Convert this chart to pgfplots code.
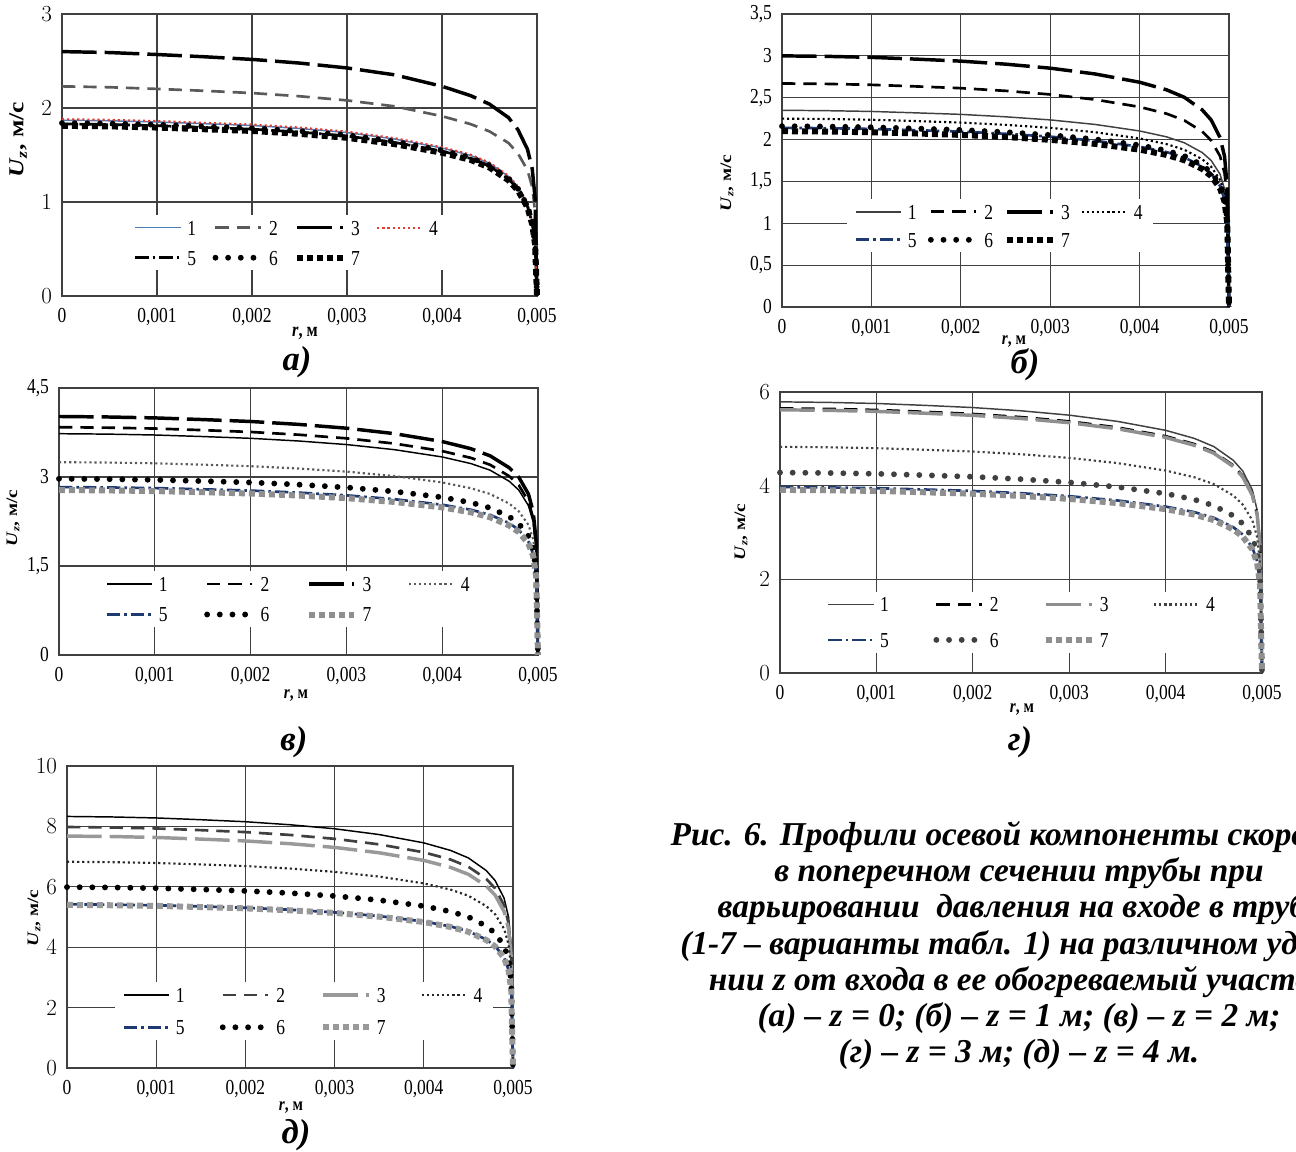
\documentclass[border=0pt]{standalone}
\usepackage{fontspec}
\setmainfont{Liberation Serif}
\newfontfamily\tickfont{Liberation Serif}[FakeStretch=0.82]
\newfontfamily\rotfont{Liberation Serif}[FakeStretch=1.2]
\usepackage{pgfplots}
\usepackage{pgfplotstable}
\pgfplotsset{compat=1.18}

\definecolor{cblue}{HTML}{4A7EBB}
\definecolor{cred}{HTML}{E03C31}
\definecolor{cnavy}{HTML}{1F3A73}
\definecolor{cdgray}{HTML}{404040}
\definecolor{cmgray}{HTML}{5A5A5A}
\definecolor{clgray}{HTML}{8F8F8F}

\pgfplotstableread{
r       c1     c2     c3     c4     c5     c6     c7
0       1.870  2.230  2.600  1.880  1.830  1.840  1.810
0.0005  1.864  2.221  2.590  1.874  1.825  1.834  1.805
0.001   1.851  2.203  2.569  1.861  1.812  1.822  1.792
0.0015  1.833  2.183  2.545  1.842  1.793  1.803  1.774
0.002   1.814  2.159  2.517  1.824  1.775  1.785  1.756
0.0025  1.782  2.125  2.478  1.792  1.744  1.754  1.725
0.003   1.739  2.081  2.426  1.748  1.702  1.711  1.683
0.0035  1.670  2.018  2.353  1.679  1.634  1.643  1.616
0.004   1.575  1.913  2.231  1.583  1.541  1.549  1.524
0.0043  1.496  1.829  2.132  1.504  1.464  1.472  1.448
0.0045  1.412  1.751  2.041  1.419  1.382  1.389  1.367
0.0047  1.272  1.628  1.898  1.278  1.244  1.251  1.231
0.0048  1.159  1.516  1.768  1.166  1.135  1.141  1.122
0.0049  0.972  1.338  1.560  0.978  0.952  0.957  0.941
0.00495 0.785  1.160  1.352  0.790  0.769  0.773  0.760
0.00498 0.561  0.892  1.040  0.564  0.549  0.552  0.543
0.005   0      0      0      0      0      0      0
}\tabA

\pgfplotstableread{
r       c1     c2     c3     c4     c5     c6     c7
0       2.350  2.670  3.000  2.250  2.140  2.160  2.100
0.0005  2.345  2.665  2.994  2.246  2.136  2.156  2.096
0.001   2.336  2.654  2.982  2.237  2.127  2.147  2.087
0.0015  2.319  2.635  2.961  2.221  2.112  2.132  2.073
0.002   2.301  2.614  2.937  2.203  2.095  2.115  2.056
0.0025  2.272  2.582  2.901  2.176  2.069  2.089  2.031
0.003   2.235  2.539  2.853  2.140  2.035  2.054  1.997
0.0035  2.181  2.478  2.784  2.088  1.986  2.004  1.949
0.004   2.103  2.390  2.685  2.014  1.915  1.933  1.880
0.0043  2.033  2.310  2.595  1.946  1.851  1.868  1.817
0.0045  1.962  2.229  2.505  1.879  1.787  1.804  1.754
0.0047  1.845  2.096  2.355  1.766  1.680  1.696  1.649
0.0048  1.751  1.989  2.235  1.676  1.594  1.609  1.565
0.0049  1.586  1.802  2.025  1.519  1.445  1.458  1.418
0.00495 1.410  1.602  1.800  1.350  1.284  1.296  1.260
0.00498 1.128  1.282  1.440  1.080  1.027  1.037  1.008
0.005   0      0      0      0      0      0      0
}\tabB

\pgfplotstableread{
r       c1     c2     c3     c4     c5     c6     c7
0       3.730  3.840  4.020  3.250  2.830  2.970  2.780
0.0005  3.723  3.832  4.012  3.244  2.824  2.964  2.774
0.001   3.708  3.817  3.996  3.231  2.813  2.952  2.763
0.0015  3.682  3.790  3.968  3.208  2.793  2.931  2.744
0.002   3.652  3.759  3.936  3.182  2.771  2.908  2.722
0.0025  3.607  3.713  3.887  3.143  2.737  2.872  2.688
0.003   3.547  3.652  3.823  3.091  2.691  2.824  2.644
0.0035  3.461  3.564  3.731  3.016  2.626  2.756  2.580
0.004   3.338  3.437  3.598  2.909  2.533  2.658  2.488
0.0043  3.226  3.322  3.477  2.811  2.448  2.569  2.405
0.0045  3.115  3.206  3.357  2.714  2.363  2.480  2.321
0.0047  2.928  3.014  3.156  2.551  2.222  2.331  2.182
0.0048  2.779  2.861  2.995  2.421  2.108  2.213  2.071
0.0049  2.518  2.592  2.714  2.194  1.910  2.005  1.877
0.00495 2.238  2.304  2.412  1.950  1.698  1.782  1.668
0.00498 1.790  1.843  1.930  1.560  1.358  1.426  1.334
0.005   0      0      0      0      0      0      0
}\tabV

\pgfplotstableread{
r       c1     c2     c3     c4     c5     c6     c7
0       5.790  5.650  5.620  4.830  3.970  4.280  3.910
0.0005  5.778  5.639  5.609  4.820  3.962  4.271  3.902
0.001   5.755  5.616  5.586  4.801  3.946  4.254  3.887
0.0015  5.715  5.577  5.547  4.767  3.918  4.224  3.859
0.002   5.668  5.531  5.502  4.729  3.887  4.190  3.828
0.0025  5.599  5.464  5.435  4.671  3.839  4.139  3.781
0.003   5.506  5.373  5.345  4.593  3.775  4.070  3.718
0.0035  5.373  5.243  5.215  4.482  3.684  3.972  3.628
0.004   5.182  5.057  5.030  4.323  3.553  3.831  3.499
0.0043  5.008  4.887  4.861  4.178  3.434  3.702  3.382
0.0045  4.835  4.718  4.693  4.033  3.315  3.574  3.265
0.0047  4.545  4.435  4.412  3.792  3.116  3.360  3.069
0.0048  4.314  4.209  4.187  3.598  2.958  3.189  2.913
0.0049  3.908  3.814  3.794  3.260  2.680  2.889  2.639
0.00495 3.474  3.390  3.372  2.898  2.382  2.568  2.346
0.00498 2.779  2.712  2.698  2.318  1.906  2.054  1.877
0.005   0      0      0      0      0      0      0
}\tabG

\pgfplotstableread{
r       c1     c2     c3     c4     c5     c6     c7
0       8.330  7.980  7.680  6.830  5.420  5.990  5.400
0.0005  8.313  7.964  7.665  6.816  5.409  5.978  5.389
0.001   8.280  7.932  7.634  6.789  5.387  5.954  5.368
0.0015  8.222  7.876  7.580  6.741  5.350  5.912  5.330
0.002   8.155  7.812  7.519  6.687  5.306  5.864  5.287
0.0025  8.055  7.717  7.427  6.605  5.241  5.792  5.222
0.003   7.922  7.589  7.304  6.495  5.154  5.696  5.135
0.0035  7.730  7.405  7.127  6.338  5.030  5.559  5.011
0.004   7.455  7.142  6.874  6.113  4.851  5.361  4.833
0.0043  7.205  6.903  6.643  5.908  4.688  5.181  4.671
0.0045  6.956  6.663  6.413  5.703  4.526  5.002  4.509
0.0047  6.539  6.264  6.029  5.362  4.255  4.702  4.239
0.0048  6.206  5.945  5.722  5.088  4.038  4.463  4.023
0.0049  5.623  5.387  5.184  4.610  3.659  4.043  3.645
0.00495 4.998  4.788  4.608  4.098  3.252  3.594  3.240
0.00498 3.998  3.830  3.686  3.278  2.602  2.875  2.592
0.005   0      0      0      0      0      0      0
}\tabD

\pgfplotsset{
  s1/.style={solid, line width=1.1pt},
  s2/.style={line width=2pt, dash pattern=on 10pt off 6pt},
  s3/.style={line width=2.6pt, dash pattern=on 26pt off 6pt},
  s4/.style={line width=1.6pt, dash pattern=on 1.6pt off 2.2pt},
  s5/.style={line width=2pt, dash pattern=on 10pt off 3pt on 2pt off 3pt},
  s6/.style={line width=4.4pt, line cap=round, dash pattern=on 0pt off 9.5pt},
  s7/.style={line width=4.5pt, dash pattern=on 4.5pt off 3pt},
  panel/.style={
    scale only axis, anchor=south west,
    xmin=0, xmax=0.005, ymin=0,
    scaled x ticks=false, scaled y ticks=false,
    axis line style={draw=black!75, line width=0.9pt},
    grid=major, major grid style={draw=black!75, line width=0.9pt},
    xtick={0,0.001,0.002,0.003,0.004,0.005},
    xticklabels={0,{0,001},{0,002},{0,003},{0,004},{0,005}},
    major tick length=0pt, tick style={draw=none},
    ticklabel style={font=\tickfont\fontsize{16}{16}\selectfont},
    yticklabel style={xshift=-4pt},
    xticklabel style={yshift=-6pt},
    clip=false,
    legend columns=4,
    legend image code/.code={\draw[##1] (0pt,0pt) -- (34pt,0pt);},
    legend style={draw=none, fill=white, inner xsep=6pt, inner ysep=2pt,
      anchor=north west,
      font=\tickfont\fontsize{16}{16}\selectfont,
      nodes={inner sep=2pt, text height=11pt, text depth=0pt},
      /tikz/every odd column/.append style={column sep=2pt}},
    table/x=r,
  },
}

\begin{document}
\begin{tikzpicture}
\useasboundingbox (0pt,0pt) rectangle (972pt,-864pt);

% (a)
\begin{axis}[panel, at={(46.5pt,-222pt)}, width=356.25pt, height=211.5pt,
  ymax=3, ytick={0,1,2,3},
  legend style={at={(0.134,0.288)}, row sep=7.5pt,
    /tikz/every even column/.append style={column sep=10.4pt}}]
\addplot[s1, cblue] table[y=c1] {\tabA};
\addplot[s2, cmgray] table[y=c2] {\tabA};
\addplot[s3, black] table[y=c3] {\tabA};
\addplot[s4, cred] table[y=c4] {\tabA};
\addplot[s5, black] table[y=c5] {\tabA};
\addplot[s6, black] table[y=c6] {\tabA};
\addplot[s7, black] table[y=c7] {\tabA};
\legend{1,2,3,4,5,6,7}
\end{axis}

% (b)
\begin{axis}[panel, at={(586.5pt,-230.25pt)}, width=335.25pt, height=219.75pt,
  ymax=3.5, ytick={0,0.5,1,1.5,2,2.5,3,3.5},
  yticklabels={0,{0,5},1,{1,5},2,{2,5},3,{3,5}},
  legend style={at={(0.144,0.369)}, row sep=6pt,
    /tikz/every even column/.append style={column sep=6.4pt}}]
\addplot[s1, cdgray] table[y=c1] {\tabB};
\addplot[s2, black] table[y=c2] {\tabB};
\addplot[s3, black] table[y=c3] {\tabB};
\addplot[s4, black] table[y=c4] {\tabB};
\addplot[s5, cnavy] table[y=c5] {\tabB};
\addplot[s6, black] table[y=c6] {\tabB};
\addplot[s7, black] table[y=c7] {\tabB};
\legend{1,2,3,4,5,6,7}
\end{axis}

% (v)
\begin{axis}[panel, at={(44.25pt,-491.25pt)}, width=359.25pt, height=200.25pt,
  ymax=4.5, ytick={0,1.5,3,4.5}, yticklabels={0,{1,5},3,{4,5}},
  legend style={at={(0.080,0.315)}, row sep=8pt,
    /tikz/every even column/.append style={column sep=25.4pt}}]
\addplot[s1, black] table[y=c1] {\tabV};
\addplot[s2, black] table[y=c2] {\tabV};
\addplot[s3, black] table[y=c3] {\tabV};
\addplot[s4, cmgray] table[y=c4] {\tabV};
\addplot[s5, cnavy] table[y=c5] {\tabV};
\addplot[s6, black] table[y=c6] {\tabV};
\addplot[s7, clgray] table[y=c7] {\tabV};
\legend{1,2,3,4,5,6,7}
\end{axis}

% (g)
\begin{axis}[panel, at={(585pt,-504.75pt)}, width=361.5pt, height=210.75pt,
  ymax=6, ytick={0,2,4,6},
  legend style={at={(0.080,0.290)}, row sep=11.6pt,
    /tikz/every even column/.append style={column sep=31.4pt}}]
\addplot[s1, cdgray] table[y=c1] {\tabG};
\addplot[s2, black] table[y=c2] {\tabG};
\addplot[s3, clgray] table[y=c3] {\tabG};
\addplot[s4, cdgray] table[y=c4] {\tabG};
\addplot[s5, cnavy] table[y=c5] {\tabG};
\addplot[s6, cdgray] table[y=c6] {\tabG};
\addplot[s7, clgray] table[y=c7] {\tabG};
\legend{1,2,3,4,5,6,7}
\end{axis}

% (d)
\begin{axis}[panel, at={(50.25pt,-801pt)}, width=334.5pt, height=226.5pt,
  ymax=10, ytick={0,2,4,6,8,10},
  legend style={at={(0.106,0.285)}, row sep=9.3pt,
    /tikz/every even column/.append style={column sep=24.4pt}}]
\addplot[s1, black] table[y=c1] {\tabD};
\addplot[s2, cdgray] table[y=c2] {\tabD};
\addplot[s3, black!40] table[y=c3] {\tabD};
\addplot[s4, black!85] table[y=c4] {\tabD};
\addplot[s5, cnavy] table[y=c5] {\tabD};
\addplot[s6, black] table[y=c6] {\tabD};
\addplot[s7, black!40] table[y=c7] {\tabD};
\legend{1,2,3,4,5,6,7}
\end{axis}

\begin{scope}[x=0.75pt, y=-0.75pt]
% y labels
\node[rotate=90] at (18,140) {\rotfont\fontsize{16}{16}\selectfont\textbf{\textit{U}\textsubscript{\textit{z}}, м/с}};
\node[rotate=90] at (727,183) {\rotfont\fontsize{12}{12}\selectfont\textbf{\textit{U}\textsubscript{\textit{z}}, м/с}};
\node[rotate=90] at (13,518) {\rotfont\fontsize{12}{12}\selectfont\textbf{\textit{U}\textsubscript{\textit{z}}, м/с}};
\node[rotate=90] at (741,532) {\rotfont\fontsize{12}{12}\selectfont\textbf{\textit{U}\textsubscript{\textit{z}}, м/с}};
\node[rotate=90] at (34,918) {\rotfont\fontsize{12}{12}\selectfont\textbf{\textit{U}\textsubscript{\textit{z}}, м/с}};
% x labels
\node at (305,333) {\tickfont\fontsize{15}{15}\selectfont\textbf{\textit{r}, м}};
\node at (1014,342) {\tickfont\fontsize{14}{14}\selectfont\textbf{\textit{r}, м}};
\node at (296,696) {\tickfont\fontsize{14}{14}\selectfont\textbf{\textit{r}, м}};
\node at (1022,710) {\tickfont\fontsize{14}{14}\selectfont\textbf{\textit{r}, м}};
\node at (291,1108) {\tickfont\fontsize{14}{14}\selectfont\textbf{\textit{r}, м}};
% panel letters
\node at (297,362) {\fontsize{26}{26}\selectfont\bfseries\itshape а)};
\node at (1025,365) {\fontsize{26}{26}\selectfont\bfseries\itshape б)};
\node at (294,742) {\fontsize{26}{26}\selectfont\bfseries\itshape в)};
\node at (1020,742) {\fontsize{26}{26}\selectfont\bfseries\itshape г)};
\node at (296,1135) {\fontsize{26}{26}\selectfont\bfseries\itshape д)};
% caption
\begin{scope}[every node/.style={anchor=base, inner sep=0pt, font=\fontsize{25}{27}\selectfont\bfseries\itshape}]
\node at (1019,845) {Рис. 6. Профили осевой компоненты скорости};
\node at (1019,881) {в поперечном сечении трубы при};
\node at (1019,917.5) {варьировании\ \ давления на входе в трубу};
\node at (1019,954) {(1-7 – варианты табл. 1) на различном удале-};
\node at (1019,990) {нии z от входа в ее обогреваемый участок};
\node at (1019,1026) {(а) – z = 0; (б) – z = 1 м; (в) – z = 2 м;};
\node at (1019,1062) {(г) – z = 3 м; (д) – z = 4 м.};
\end{scope}
\end{scope}
\end{tikzpicture}
\end{document}
